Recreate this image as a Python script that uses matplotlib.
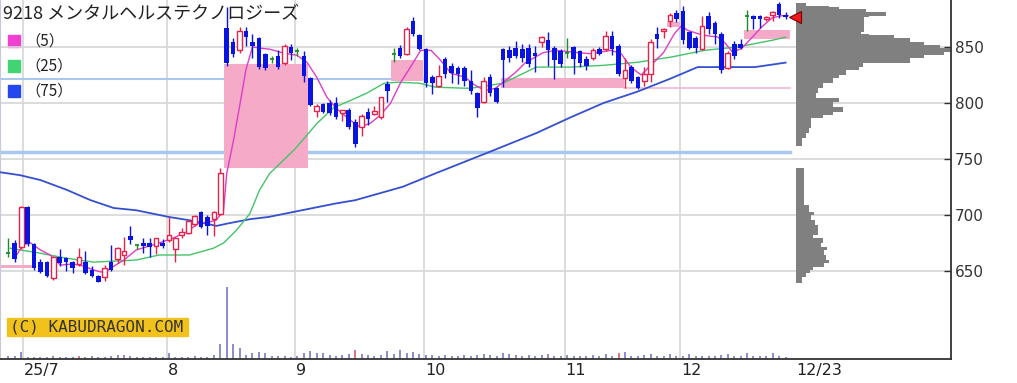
import numpy as np
import matplotlib.pyplot as plt
from matplotlib.patches import Rectangle

# daily candles, late June 2025 .. 2025-12-23 (index 1..122)
opens = [666, 675, 671, 707, 674, 658, 658, 643, 662, 661,
         658, 656, 658, 651, 645, 644, 658, 660, 664, 681,
         673, 675, 675, 672, 675, 677, 669, 682, 684, 692,
         702, 698, 696, 701, 867, 854, 847, 864, 854, 858,
         844, 839, 842, 836, 850, 846, 842, 822, 793, 799,
         800, 800, 791, 794, 783, 778, 792, 790, 787, 817,
         844, 849, 844, 873, 861, 848, 823, 815, 839, 833,
         831, 831, 820, 809, 801, 823, 813, 848, 847, 849,
         848, 849, 845, 854, 856, 849, 846, 845, 850, 846,
         839, 840, 848, 848, 860, 851, 822, 832, 823, 820,
         826, 862, 864, 873, 880, 882, 863, 858, 848, 878,
         871, 862, 831, 853, 853, 878, 878, 878, 875, 879,
         888, 879]
highs = [679, 677, 708, 708, 675, 660, 659, 663, 669, 662,
         659, 670, 668, 654, 646, 655, 673, 671, 680, 690,
         673, 679, 679, 679, 678, 698, 680, 688, 695, 700,
         703, 700, 703, 742, 886, 858, 868, 868, 862, 859,
         845, 842, 847, 853, 853, 849, 846, 823, 799, 800,
         803, 805, 794, 795, 786, 790, 795, 797, 805, 820,
         849, 852, 868, 877, 862, 849, 825, 834, 841, 836,
         833, 833, 829, 810, 823, 826, 814, 849, 851, 855,
         853, 853, 851, 860, 863, 851, 848, 858, 851, 847,
         842, 849, 850, 864, 864, 853, 840, 834, 824, 832,
         857, 868, 867, 880, 883, 887, 864, 860, 878, 881,
         873, 863, 846, 855, 857, 883, 879, 879, 878, 882,
         890, 881]
lows = [662, 658, 669, 672, 651, 648, 644, 642, 654, 650,
        648, 654, 647, 644, 640, 641, 650, 657, 655, 674,
        669, 666, 662, 665, 670, 676, 658, 679, 683, 690,
        688, 682, 681, 700, 833, 841, 845, 851, 840, 830,
        829, 836, 830, 834, 838, 842, 819, 797, 787, 791,
        789, 786, 784, 777, 761, 770, 780, 789, 786, 801,
        837, 840, 843, 860, 847, 814, 808, 814, 822, 818,
        817, 815, 808, 787, 800, 806, 800, 814, 837, 840,
        837, 832, 828, 850, 833, 821, 832, 840, 826, 832,
        829, 838, 843, 846, 843, 824, 813, 818, 812, 815,
        819, 849, 858, 868, 872, 853, 848, 845, 847, 862,
        853, 827, 830, 839, 848, 864, 866, 867, 873, 873,
        876, 875]
closes = [666, 660, 707, 674, 652, 649, 645, 662, 657, 658,
          652, 662, 648, 645, 640, 652, 651, 670, 668, 677,
          673, 672, 671, 679, 672, 682, 679, 685, 694, 699,
          689, 690, 702, 737, 836, 844, 864, 859, 851, 832,
          831, 839, 832, 851, 845, 846, 824, 798, 797, 792,
          791, 787, 794, 778, 763, 788, 786, 793, 805, 811,
          844, 842, 866, 862, 848, 818, 818, 824, 826, 827,
          826, 820, 811, 795, 820, 809, 801, 838, 840, 842,
          840, 835, 842, 859, 847, 838, 835, 845, 839, 836,
          833, 847, 844, 860, 848, 826, 829, 820, 813, 826,
          854, 857, 866, 879, 875, 856, 849, 849, 869, 866,
          862, 829, 845, 842, 849, 878, 875, 875, 877, 881,
          879, 877]
volume = [3, 3, 7, 2, 2, 2, 2, 3, 2, 2,
          2, 3.5, 2, 3, 2, 2, 3.5, 4.5, 4.5, 3.5,
          2.5, 2.5, 2.5, 2.5, 2.5, 6, 2.5, 2, 2, 3.5,
          2, 2.5, 4, 15, 72, 15, 11, 4, 6, 7,
          6, 3.5, 3, 3, 2, 3, 6, 8, 6, 6,
          4, 3, 4, 5, 9, 5, 4, 3, 4, 8,
          5, 9, 6, 7, 5, 4, 4, 3, 4, 3,
          3, 4, 3, 4, 5, 4, 3, 6, 5, 4,
          3, 4, 3, 4, 5, 3, 3, 4, 3, 3,
          3, 4, 3, 5, 3, 6, 7, 3, 3, 4,
          5, 3, 3, 5, 3, 3, 5, 3, 3, 3,
          3, 4, 5, 3, 3, 6, 3, 3, 3, 6,
          3, 2.5]
vol_red = [12, 55, 96]

# moving averages (index, price)
ma5_x = [2.05, 3.3, 4.4, 6, 7.5, 9.1, 11.1, 12.7, 14.3, 15.4, 16.5, 17.7, 19, 20.9,
         24.5, 26.6, 28.7, 30.7, 32.3, 33.4, 34.5, 35, 36, 37, 38, 39, 40.1, 41.7,
         43.9, 45.9, 47.5, 49, 50.6, 51.9, 53.3, 54.2, 55.8, 57.4, 58.9, 60.5, 62.1,
         63.6, 65.2, 66.8, 68.3, 69.9, 72.1, 73.6, 75.2, 76.8, 78.4, 79.9, 81.5, 84.3,
         86.3, 89.5, 91.7, 94.8, 96.4, 97.9, 99.5, 101.1, 103, 104.7, 105.8, 106.7,
         108.3, 109.8, 111.4, 112.5, 113.8, 115.2, 116.7, 118.3, 119.9, 121.4, 122.4]
ma5_y = [662, 673, 675, 668.5, 664, 655, 656, 654, 650.6, 648.8, 650.6, 655, 659.5, 668.5,
         674.7, 679, 684.6, 692.6, 693.5, 695.3, 704, 737, 765, 797, 830, 850, 849, 848,
         844.4, 842.6, 836.3, 823, 805, 796, 789, 784.6, 778.3, 782, 789, 799.7, 818.5,
         832, 847, 847, 838, 826.5, 823, 816, 811, 813, 820, 827, 836, 845,
         847, 845, 844, 847, 844, 832, 825, 834, 845, 862, 869, 865,
         862, 860, 859, 854, 845, 849, 858, 868, 876, 878, 878]
ma25_x = [1.3, 2.8, 4.9, 10.2, 14.3, 17.4, 20.9, 24.5, 29.2, 32.9, 34.5, 36.5, 38.6,
          40.1, 41.7, 45.5, 49.1, 51.7, 54.2, 56.9, 59.5, 61.6, 65, 67.5, 72.9, 78,
          83.2, 88.5, 93.7, 98.9, 104.2, 109.4, 114.5, 119.9, 122]
ma25_y = [670, 668.5, 666.7, 661, 657.6, 658.5, 659.5, 664, 664, 670, 674.7, 686, 701,
          722, 737, 758, 782, 796, 802, 809, 817.6, 818.5, 817.6, 814, 813, 817.6,
          832, 832, 833.6, 836.3, 841, 847, 850, 856, 858.7]
ma75_x = [-0.3, 2.8, 6, 10.2, 13.8, 17.4, 20.9, 26, 29.8, 33.4, 35, 38.6, 41.5, 46.7,
          51.9, 55, 62.4, 67.5, 75.4, 83.2, 88.5, 93.7, 98.9, 104.2, 108.3, 117.2, 122]
ma75_y = [738, 735.4, 731, 722, 713, 706, 704, 698, 694.5, 690, 692, 696, 698, 704,
          710, 713, 725, 737, 755, 773, 787, 800, 810, 822, 832, 832, 836]

# price-by-volume profile: bin edges (price, top->bottom) and volume per bin
prof_edges = [889, 887, 885.5, 883.7, 881, 878, 876.5, 863, 862, 860.4, 857.8, 854,
              851.5, 848.8, 845.3, 842.6, 840, 836, 835.4, 832, 829, 824.7, 822, 817.6,
              813, 808.7, 804, 800.6, 796, 791.7, 789, 786.3, 782, 777.4, 773, 768.5,
              761.3, 741.7, 708.6, 702.4, 700, 695, 690.6, 686, 681.8, 679, 674.7, 671,
              668.5, 664, 659.5, 657, 653, 650.7, 648, 644.5, 639]
prof_vol = [10, 33, 43, 70, 90, 73, 68, 65, 73, 97, 113, 127, 143, 157, 147, 127, 113,
            93, 67, 63, 50, 43, 37, 27, 22, 20, 43, 37, 47, 37, 27, 15, 15, 13, 10, 6,
            0, 8, 13, 18, 15, 19, 22, 22, 17, 27, 25, 31, 28, 30, 33, 28, 17, 14, 10, 6]

# windows / zones: (x0, x1, price_low, price_high)
zones = [(-0.3, 4.7, 652, 655), (34.6, 47.6, 741.5, 835), (60.6, 65.5, 820, 838),
         (77.7, 96.8, 813, 822), (103.6, 105.5, 868, 872), (115.6, 122.7, 857, 865)]

month_pos = [3.3, 25.7, 45.6, 65.7, 87.6, 105.6]
month_lbl = ['25/7', '8', '9', '10', '11', '12']
last_lbl = '12/23'

W, H = 1017, 383
fig = plt.figure(figsize=(W / 100, H / 100), dpi=100)
ax = fig.add_axes([0, 24 / H, 951 / W, 359 / H])
axv = ax.twinx()
ax.set_zorder(axv.get_zorder() + 1)
ax.patch.set_visible(False)

ax.set_xlim(-0.3, 147.75)
ax.set_ylim(571, 892)

ax.spines['top'].set_visible(False)
ax.spines['left'].set_color('#c8c8dc')
ax.spines['right'].set_color('#333333')
ax.spines['bottom'].set_color('#333333')
ax.spines['right'].set_linewidth(1.3)
ax.spines['bottom'].set_linewidth(1.3)

yt = [650, 700, 750, 800, 850]
ax.set_yticks(yt)
ax.yaxis.tick_right()
ax.yaxis.set_label_position('right')
ax.tick_params(axis='y', direction='in', length=5, width=1, colors='#333333',
               labelsize=11, pad=3)
ax.set_xticks([])
for v in yt:
    ax.axhline(v, color='#d6d6d6', lw=1.2, zorder=0)
for m in month_pos:
    ax.axvline(m, color='#d6d6d6', lw=1.2, zorder=0)

# zones and reference lines
for x0, x1, lo, hi in zones:
    ax.add_patch(Rectangle((x0, lo), x1 - x0, hi - lo, color='#f5aac8', lw=0, zorder=1))
ax.plot([-0.3, 65.5], [821, 821], color='#a9c8f0', lw=1.5, zorder=0.8)
ax.plot([-0.3, 122.7], [756, 756], color='#a9c8f0', lw=2.5, zorder=0.8)
ax.plot([96.8, 122.7], [813, 813], color='#f3b6d6', lw=1.2, zorder=0.8)

# volume profile
prof_vol = np.array(prof_vol, dtype=float)
tops = np.array(prof_edges[:-1])
bots = np.array(prof_edges[1:])
prof_w = prof_vol / prof_vol.max() * 24.6
ax.barh(bots, prof_w, height=tops - bots, left=123.6, align='edge',
        color='#808080', lw=0, zorder=2)

# moving averages
ax.plot(ma75_x, ma75_y, color='#3450d0', lw=1.3, zorder=3)
ax.plot(ma25_x, ma25_y, color='#44c468', lw=1.0, zorder=3)
ax.plot(ma5_x, ma5_y, color='#e03cc8', lw=1.0, zorder=3)

# candles
idx = np.arange(1, len(closes) + 1)
o = np.array(opens); c = np.array(closes); h = np.array(highs); l = np.array(lows)
up = c > o
dn = c < o
dj = c == o
ax.vlines(idx[up], l[up], h[up], color='#e8204c', lw=1, zorder=4)
ax.vlines(idx[dn], l[dn], h[dn], color='#0a14e0', lw=1, zorder=4)
ax.vlines(idx[dj], l[dj], h[dj], color='#1e8a28', lw=1, zorder=4)
ax.bar(idx[up], c[up] - o[up], bottom=o[up], width=0.72, facecolor='white',
       edgecolor='#e8204c', lw=1, zorder=5)
ax.bar(idx[dn], o[dn] - c[dn], bottom=c[dn], width=0.72, color='#0a14e0', lw=0, zorder=5)
ax.hlines(c[dj], idx[dj] - 0.3, idx[dj] + 0.3, color='#1e8a28', lw=1.3, zorder=5)

ax.plot(123.5, closes[-1], marker='<', ms=8, color='#f01818', mec='#700000', mew=0.8,
        zorder=6, clip_on=False)

# volume on its own scale at the bottom
axv.set_ylim(0, 359)
axv.set_yticks([])
for s in axv.spines.values():
    s.set_visible(False)
vcol = ['#d05060' if i in vol_red else '#6c6cc0' for i in idx]
axv.vlines(idx, 0, volume, colors=vcol, lw=1.1)

# date labels
for m, t in zip(month_pos, month_lbl):
    ax.text(m + 0.15, -0.012, t, transform=ax.get_xaxis_transform(), ha='left', va='top',
            fontsize=11.5, color='#222222')
ax.text(123.6, -0.012, last_lbl, transform=ax.get_xaxis_transform(), ha='left', va='top',
        fontsize=11.5, color='#222222')

# title and legend
fig.text(3 / W, 1 - 14 / H, '9218 メンタルヘルステクノロジーズ', fontsize=13,
         family=['Noto Sans CJK JP', 'DejaVu Sans'], va='center', ha='left', color='#222222')
leg = [('（5）', '#f040d0'), ('（25）', '#40d474'), ('（75）', '#2446ee')]
for k, (t, col) in enumerate(leg):
    yc = 41 + 25 * k
    fig.add_artist(Rectangle((8 / W, 1 - (yc + 6) / H), 12 / W, 12 / H, color=col,
                             transform=fig.transFigure))
    fig.text(25 / W, 1 - yc / H, t, fontsize=11, family=['Noto Sans CJK JP'],
             va='center', ha='left', color='#222222')

# copyright badge
fig.add_artist(Rectangle((7 / W, 1 - 336 / H), 181 / W, 18 / H, color='#f2c21c',
                         transform=fig.transFigure, zorder=10))
fig.text(10 / W, 1 - 327 / H, '(C) KABUDRAGON.COM', fontsize=11.5, family='DejaVu Sans Mono',
         va='center', ha='left', color='#333333', zorder=11)

fig.savefig('out.png', dpi=100)
